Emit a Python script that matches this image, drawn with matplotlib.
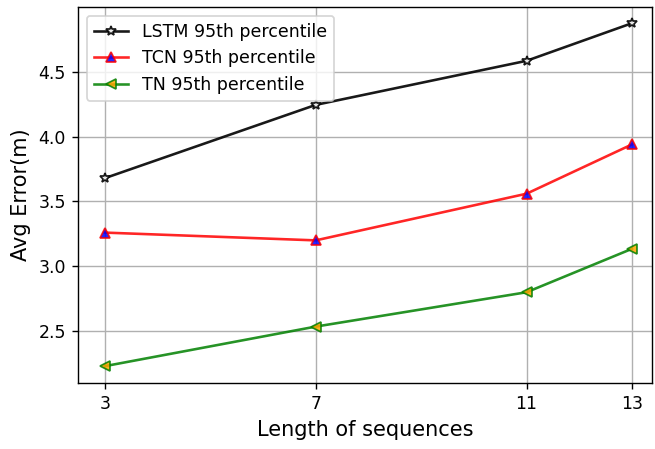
import matplotlib
matplotlib.use("Agg")
import matplotlib.pyplot as plt

seq_len = [3, 7, 11, 13]
lstm_95 = [3.68, 4.245, 4.585, 4.875]
tcn_95 = [3.26, 3.20, 3.56, 3.94]
tn_95 = [2.23, 2.535, 2.80, 3.135]

DPI = 125
fig = plt.figure(figsize=(655 / DPI, 449 / DPI), dpi=DPI)
ax = fig.add_axes([78 / 655, 1 - 383 / 449, (652 - 78) / 655, (383 - 7) / 449])

ax.plot(seq_len, lstm_95, color='k', alpha=0.9, marker='*', markerfacecolor='white',
        markeredgecolor='k', markersize=6, label='LSTM 95th percentile')
ax.plot(seq_len, tcn_95, color='red', alpha=0.85, marker='^', markerfacecolor='blue',
        markeredgecolor='red', markersize=6, label='TCN 95th percentile')
ax.plot(seq_len, tn_95, color='green', alpha=0.85, marker='<', markerfacecolor='orange',
        markeredgecolor='green', markersize=6, label='TN 95th percentile')

ax.set_xticks(seq_len)
ax.set_xlim(2.49, 13.38)
ax.set_ylim(2.1, 5.0)
ax.set_yticks([2.5, 3.0, 3.5, 4.0, 4.5])
ax.grid(True)
ax.tick_params(labelsize=10)
ax.set_xlabel('Length of sequences', fontsize=12)
ax.set_ylabel('Avg Error(m)', fontsize=12)
ax.legend(loc='upper left', fontsize=10)

fig.savefig('out.png', dpi=DPI)
